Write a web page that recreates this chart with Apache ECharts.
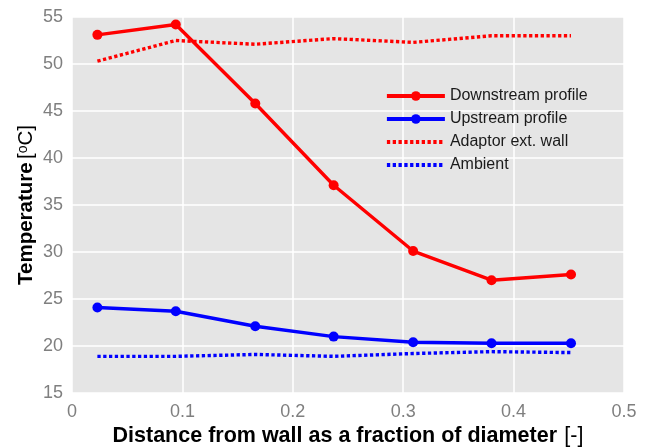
<!DOCTYPE html>
<html>
<head>
<meta charset="utf-8">
<script src="https://cdn.jsdelivr.net/npm/echarts@6/dist/echarts.min.js"></script>
<style>
  html, body { margin: 0; padding: 0; background: #ffffff; }
  #chart { width: 656px; height: 447px; }
</style>
</head>
<body>
<div id="chart"></div>
<script>
// Radial positions (fraction of diameter from the wall)
const positions = [0.023, 0.094, 0.166, 0.237, 0.309, 0.380, 0.452];

// Temperatures in °C
const downstream = [53.1, 54.2, 45.8, 37.1, 30.1, 27.0, 27.6];
const upstream   = [24.1, 23.7, 22.1, 21.0, 20.4, 20.3, 20.3];
const adaptorWall = [50.3, 52.5, 52.1, 52.7, 52.3, 53.0, 53.0];
const ambient    = [18.9, 18.9, 19.1, 18.9, 19.2, 19.4, 19.3];

const seriesNames = ['Downstream profile', 'Upstream profile', 'Adaptor ext. wall', 'Ambient'];

const pairs = vals => positions.map((x, i) => [x, vals[i]]);
const FONT = 'Liberation Sans, Arial, sans-serif';
const DOT = [3.3, 2.5];
const TICK_COLOR = '#7f7f7f';

const chart = echarts.init(document.getElementById('chart'), null, { renderer: 'canvas' });

chart.setOption({
  animation: false,
  backgroundColor: '#ffffff',
  grid: {
    left: 72, right: 32, top: 17, bottom: 54,
    outerBoundsMode: 'none',
    show: true, backgroundColor: '#e5e5e5', borderWidth: 0
  },
  legend: {
    orient: 'vertical',
    left: 385, top: 88, padding: 0,
    itemWidth: 58, itemHeight: 12, itemGap: 7,
    lineStyle: { width: 3.8 },
    textStyle: { fontFamily: FONT, fontSize: 16, color: '#1a1a1a', padding: [0, 0, 0, 0] },
    data: [
      { name: seriesNames[0] },
      { name: seriesNames[1] },
      // dotted reference lines carry no point markers
      { name: seriesNames[2], itemStyle: { opacity: 0 } },
      { name: seriesNames[3], itemStyle: { opacity: 0 } }
    ]
  },
  xAxis: {
    type: 'value', min: 0, max: 0.5, interval: 0.1,
    axisLine: { show: false }, axisTick: { show: false },
    splitLine: { show: true, lineStyle: { color: '#ffffff', width: 1.5 } },
    axisLabel: { fontFamily: FONT, fontSize: 18, color: TICK_COLOR, margin: 10,
      formatter: v => (v === 0 ? '0' : String(+v.toFixed(1))) },
    name: '{b|Distance from wall as a fraction of diameter} {r|[-]}',
    nameLocation: 'middle', nameGap: 32, nameMoveOverlap: false,
    nameTextStyle: {
      rich: {
        b: { fontFamily: FONT, fontSize: 21.5, fontWeight: 'bold', color: '#000' },
        r: { fontFamily: FONT, fontSize: 21.5, color: '#000', padding: [0, 0, 0, 4] }
      }
    }
  },
  yAxis: {
    type: 'value', min: 15, max: 55, interval: 5,
    axisLine: { show: false }, axisTick: { show: false },
    splitLine: { show: true, lineStyle: { color: '#ffffff', width: 1.5 } },
    axisLabel: { fontFamily: FONT, fontSize: 18, color: TICK_COLOR, margin: 9 },
    name: '{b|Temperature} {r|[}{s|o}{r|C]}',
    nameLocation: 'middle', nameGap: 35, nameRotate: 90, nameMoveOverlap: false,
    nameTextStyle: {
      rich: {
        b: { fontFamily: FONT, fontSize: 20.5, fontWeight: 'bold', color: '#000' },
        r: { fontFamily: FONT, fontSize: 20.5, color: '#000' },
        s: { fontFamily: FONT, fontSize: 14, color: '#000', verticalAlign: 'top', padding: [0, 0, 7, 0] }
      }
    }
  },
  series: [
    {
      name: seriesNames[0], type: 'line', data: pairs(downstream),
      symbol: 'circle', symbolSize: 10, color: '#ff0000',
      lineStyle: { width: 3.4, color: '#ff0000' }, itemStyle: { color: '#ff0000' }, z: 4
    },
    {
      name: seriesNames[1], type: 'line', data: pairs(upstream),
      symbol: 'circle', symbolSize: 10, color: '#0000ff',
      lineStyle: { width: 3.4, color: '#0000ff' }, itemStyle: { color: '#0000ff' }, z: 4
    },
    {
      name: seriesNames[2], type: 'line', data: pairs(adaptorWall),
      symbol: 'none', color: '#ff0000',
      lineStyle: { width: 3.4, color: '#ff0000', type: DOT, cap: 'butt' }, z: 3
    },
    {
      name: seriesNames[3], type: 'line', data: pairs(ambient),
      symbol: 'none', color: '#0000ff',
      lineStyle: { width: 3.4, color: '#0000ff', type: DOT, cap: 'butt' }, z: 3
    }
  ]
});
</script>
</body>
</html>
